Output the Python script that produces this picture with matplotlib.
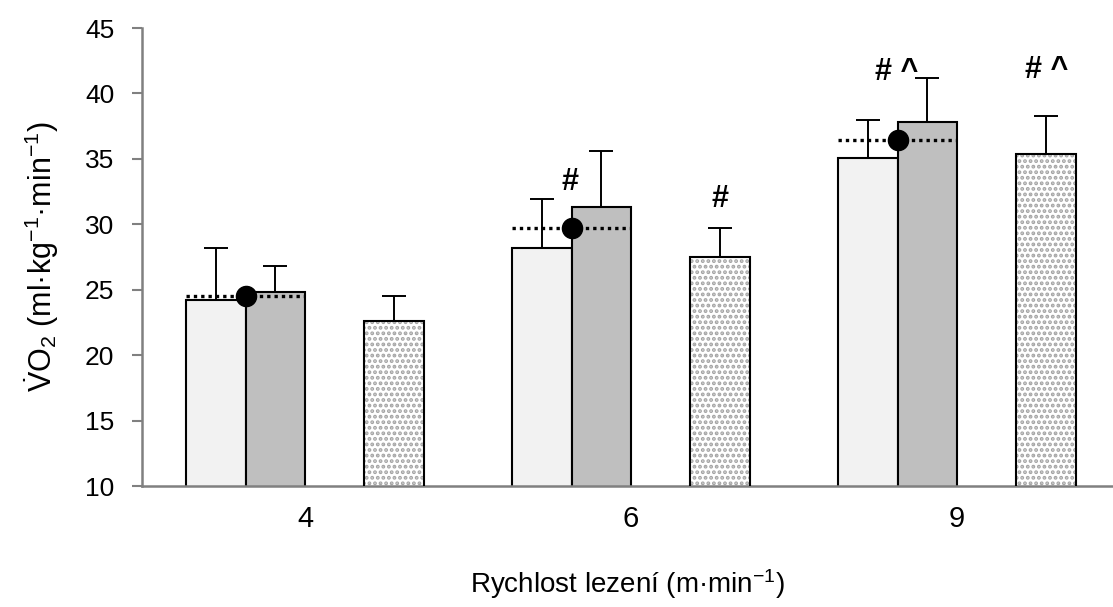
import numpy as np
import matplotlib
matplotlib.use("Agg")
import matplotlib.pyplot as plt

plt.rcParams["font.family"] = ["Liberation Sans", "DejaVu Sans"]
plt.rcParams["mathtext.fontset"] = "custom"
plt.rcParams["mathtext.rm"] = "Liberation Sans"
plt.rcParams["mathtext.it"] = "Liberation Sans:italic"
plt.rcParams["mathtext.bf"] = "Liberation Sans:bold"
plt.rcParams["hatch.linewidth"] = 1.9

# data
speeds = ["4", "6", "9"]
bar1 = [24.2, 28.2, 35.1]
bar1_err = [4.0, 3.7, 2.9]
bar2 = [24.8, 31.35, 37.8]
bar2_err = [2.0, 4.25, 3.4]
bar3 = [22.6, 27.5, 35.4]
bar3_err = [1.9, 2.25, 2.9]
mean12 = [24.5, 29.75, 36.45]
marks2 = ["", "#", "# ^"]
marks2_y = [None, 33.2, 41.6]
marks3 = ["", "#", "# ^"]
marks3_y = [None, 31.9, 41.8]

x = np.arange(len(speeds))
w = 0.1825

fig = plt.figure(figsize=(11.13, 6.07), dpi=100)
ax = fig.add_axes([142 / 1113, (607 - 486) / 607, (1113 - 142) / 1113, (486 - 28) / 607])

ekw = dict(elinewidth=1.4, capthick=1.4, ecolor="black", capsize=8.5)
ax.bar(x - 1.5 * w, bar1, w, color="#f2f2f2", edgecolor="black", linewidth=1.5, zorder=2)
ax.errorbar(x - 1.5 * w, bar1, yerr=[np.zeros(3), bar1_err], fmt="none", zorder=1, **ekw)
ax.bar(x - 0.5 * w, bar2, w, color="#bfbfbf", edgecolor="black", linewidth=1.5, zorder=2)
ax.errorbar(x - 0.5 * w, bar2, yerr=[np.zeros(3), bar2_err], fmt="none", zorder=1, **ekw)

# dotted bar: gray hatch, then black outline
ax.bar(x + 1.5 * w, bar3, w, color="white", edgecolor="#a4a4a4", hatch="...", linewidth=0, zorder=2)
ax.bar(x + 1.5 * w, bar3, w, color="none", edgecolor="black", linewidth=1.5, zorder=3)
ax.errorbar(x + 1.5 * w, bar3, yerr=[np.zeros(3), bar3_err], fmt="none", zorder=1, **ekw)

# mean of first two conditions
ax.hlines(mean12, x - 2 * w, x, colors="black", linestyles=(0, (1, 1.2)), linewidth=2.4, zorder=4)
ax.plot(x - w, mean12, "o", color="black", markersize=14.5, zorder=5)

for i in range(len(speeds)):
    if marks2[i]:
        ax.text(x[i] - 1.02 * w, marks2_y[i], marks2[i], ha="center", va="center",
                fontsize=22, fontweight="bold")
    if marks3[i]:
        ax.text(x[i] + 1.5 * w, marks3_y[i], marks3[i], ha="center", va="center",
                fontsize=22, fontweight="bold")

ax.set_ylim(10, 45)
ax.set_yticks(range(10, 50, 5))
ax.set_xlim(-0.5, (1113 - 305) / 326)
ax.set_xticks(x)
ax.set_xticklabels(speeds)

for s in ["top", "right"]:
    ax.spines[s].set_visible(False)
for s in ["left", "bottom"]:
    ax.spines[s].set_color("#808080")
    ax.spines[s].set_linewidth(1.8)

ax.tick_params(axis="y", length=7, width=1.5, color="#808080", labelsize=19, pad=13)
ax.tick_params(axis="x", length=0, labelsize=21, pad=14)

ax.set_ylabel(r"$\mathrm{\dot{V}O_2}$ (ml·kg$^{\mathrm{-1}}$·min$^{\mathrm{-1}}$)", fontsize=22, labelpad=17)
ax.set_xlabel(r"Rychlost lezení (m·min$^{\mathrm{-1}}$)", fontsize=20, labelpad=24)

fig.savefig("out.png", dpi=100)
